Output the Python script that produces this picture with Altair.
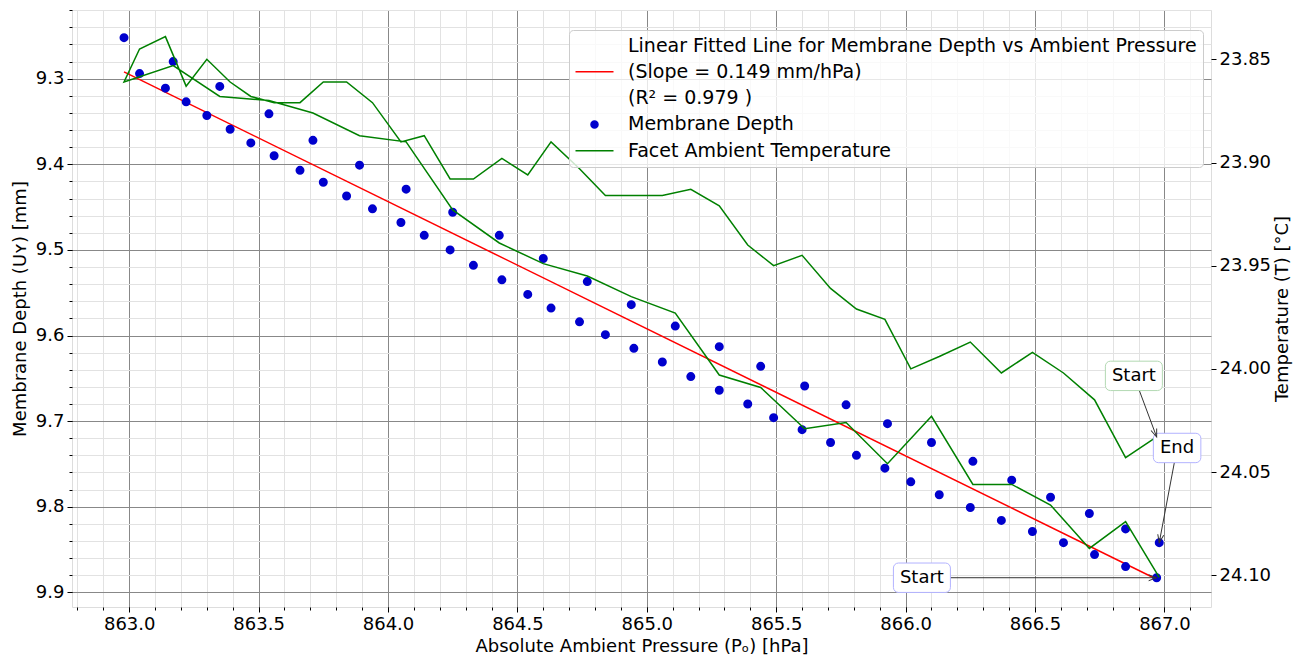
import math
import altair as alt
import pandas as pd

# ---------------- data ----------------
# measurement sequence: pressure falls from 867 to 863, then rises again
pressure = [866.97, 866.85, 866.73, 866.61, 866.49, 866.37, 866.25, 866.13, 866.02, 865.92,
            865.81, 865.71, 865.60, 865.49, 865.39, 865.28, 865.17, 865.06, 864.95, 864.84,
            864.74, 864.63, 864.54, 864.44, 864.33, 864.24, 864.14, 864.05, 863.94, 863.84,
            863.75, 863.66, 863.56, 863.47, 863.39, 863.30, 863.22, 863.14, 863.04, 862.98,
            863.17, 863.35, 863.54, 863.71, 863.89, 864.07, 864.25, 864.43, 864.60, 864.77,
            864.94, 865.11, 865.28, 865.44, 865.61, 865.77, 865.93, 866.10, 866.26, 866.41,
            866.56, 866.71, 866.85, 866.98]
depth = [9.883, 9.870, 9.856, 9.842, 9.829, 9.816, 9.801, 9.786, 9.771, 9.755,
         9.740, 9.725, 9.710, 9.696, 9.680, 9.664, 9.648, 9.631, 9.615, 9.599,
         9.584, 9.568, 9.552, 9.535, 9.518, 9.500, 9.483, 9.468, 9.452, 9.437,
         9.421, 9.407, 9.390, 9.375, 9.359, 9.343, 9.327, 9.311, 9.294, 9.252,
         9.280, 9.309, 9.341, 9.372, 9.401, 9.429, 9.456, 9.483, 9.510, 9.537,
         9.564, 9.589, 9.613, 9.636, 9.659, 9.681, 9.703, 9.725, 9.747, 9.769,
         9.789, 9.808, 9.826, 9.842]
temperature = [24.033, 24.043, 24.015, 24.002, 23.992, 24.002, 23.987, 23.994, 24.000, 23.976,
               23.971, 23.961, 23.945, 23.950, 23.940, 23.921, 23.913, 23.916, 23.916, 23.916,
               23.903, 23.890, 23.906, 23.898, 23.908, 23.908, 23.887, 23.890, 23.871, 23.861,
               23.861, 23.871, 23.871, 23.868, 23.861, 23.850, 23.863, 23.839, 23.845, 23.861,
               23.853, 23.868, 23.870, 23.876, 23.887, 23.890, 23.923, 23.939, 23.949, 23.955,
               23.965, 23.973, 24.003, 24.009, 24.029, 24.026, 24.046, 24.023, 24.056, 24.056,
               24.066, 24.087, 24.074, 24.101]

x_major = [863.0, 863.5, 864.0, 864.5, 865.0, 865.5, 866.0, 866.5, 867.0]
x_minor = [round(862.8 + 0.1 * i, 1) for i in range(44)]
d_major = [9.3, 9.4, 9.5, 9.6, 9.7, 9.8, 9.9]
d_minor = [round(9.22 + 0.02 * i, 2) for i in range(35)]
t_major = [23.85, 23.90, 23.95, 24.00, 24.05, 24.10]

legend_labels = [
    "Linear Fitted Line for Membrane Depth vs Ambient Pressure",
    "(Slope = 0.149 mm/hPa)",
    "(R² = 0.979 )",
    "Membrane Depth",
    "Facet Ambient Temperature",
]

# annotation label positions (data coordinates)
ann_depth_text = ["Start", "End"]
ann_depth_lp = [866.063, 867.049]
ann_depth_ld = [9.883, 9.7314]
ann_depth_w = [57, 47.5]
ann_temp_text = ["Start"]
ann_temp_lp = [866.882]
ann_temp_lt = [24.0034]
ann_temp_w = [57]

# ---------------- layout ----------------
W, H = 1139, 597
X_DOM = [862.779, 867.180]
D_DOM = [9.2197, 9.9172]
T_DOM = [23.8261, 24.1154]
FONT = "DejaVu Sans"
FS = 18

xs = alt.Scale(domain=X_DOM, nice=False, zero=False)
ds = alt.Scale(domain=D_DOM, nice=False, zero=False, reverse=True)
ts = alt.Scale(domain=T_DOM, nice=False, zero=False, reverse=True)

df = pd.DataFrame({
    "idx": list(range(len(pressure))),
    "p": pressure,
    "d": depth,
    "T": temperature,
    "series": ["Membrane Depth"] * len(pressure),
})

# ---------------- grid / axes layers ----------------
minor = alt.Chart(df).mark_point(opacity=0).encode(
    x=alt.X("p:Q", scale=xs, axis=alt.Axis(
        orient="bottom", values=x_minor, labels=False, ticks=True, tickSize=3,
        tickColor="black", grid=True, gridColor="#e2e2e2", gridWidth=1,
        domain=False, title=None)),
    y=alt.Y("d:Q", scale=ds, axis=alt.Axis(
        orient="left", values=d_minor, labels=False, ticks=True, tickSize=3,
        tickColor="black", grid=True, gridColor="#e2e2e2", gridWidth=1,
        domain=False, title=None)),
)

major = alt.Chart(df).mark_point(opacity=0).encode(
    x=alt.X("p:Q", scale=xs, axis=alt.Axis(
        orient="bottom", values=x_major, format=".1f", labelFont=FONT, labelFontSize=FS,
        labelColor="black", labelPadding=3, labelFlush=False, labelOverlap=False,
        tickSize=5, tickColor="black", tickWidth=1, grid=True, gridColor="#888888",
        gridWidth=1, domain=False, title="Absolute Ambient Pressure (Pₒ) [hPa]",
        titleFont=FONT, titleFontSize=FS, titleFontWeight="normal", titleColor="black",
        titlePadding=4)),
    y=alt.Y("d:Q", scale=ds, axis=alt.Axis(
        orient="left", values=d_major, format=".1f", labelFont=FONT, labelFontSize=FS,
        labelColor="black", labelPadding=3, labelFlush=False, labelOverlap=False,
        tickSize=5, tickColor="black", tickWidth=1, grid=True, gridColor="#888888",
        gridWidth=1, domain=False, title="Membrane Depth (Uʏ) [mm]",
        titleFont=FONT, titleFontSize=FS, titleFontWeight="normal", titleColor="black",
        titlePadding=6)),
)

# ---------------- data layers ----------------
fit = alt.Chart(df).transform_regression("p", "d").mark_line(
    color="red", strokeWidth=1.5).encode(
    x=alt.X("p:Q", scale=xs, axis=None),
    y=alt.Y("d:Q", scale=ds, axis=None),
)

LINE = "M-3.8,0H3.8"
DOT = "M-0.7,0A0.7,0.7,0,1,0,0.7,0A0.7,0.7,0,1,0,-0.7,0Z"
leg = alt.Legend(
    title=None, orient="none", legendX=497, legendY=20, labelFont=FONT, labelFontSize=19,
    labelColor="black", labelLimit=1000, labelOffset=24, symbolOffset=10, rowPadding=6.3,
    padding=6, fillColor="rgba(255,255,255,0.8)", strokeColor="#cccccc", cornerRadius=4,
    symbolStrokeWidth=1.5,
)
scatter = alt.Chart(df).mark_point(filled=True, opacity=1, size=100).encode(
    x=alt.X("p:Q", scale=xs, axis=None),
    y=alt.Y("d:Q", scale=ds, axis=None),
    fill=alt.Fill("series:N", legend=leg, scale=alt.Scale(
        domain=legend_labels,
        range=["transparent", "transparent", "transparent", "mediumblue", "transparent"])),
    stroke=alt.Stroke("series:N", legend=leg, scale=alt.Scale(
        domain=legend_labels,
        range=["transparent", "red", "transparent", "mediumblue", "green"])),
    shape=alt.Shape("series:N", legend=leg, scale=alt.Scale(
        domain=legend_labels, range=[LINE, LINE, LINE, DOT, LINE])),
)

temp = alt.Chart(df).mark_line(color="green", strokeWidth=1.5).encode(
    x=alt.X("p:Q", scale=xs, axis=None),
    y=alt.Y("T:Q", scale=ts, axis=alt.Axis(
        orient="right", values=t_major, format=".2f", labelFont=FONT, labelFontSize=FS,
        labelColor="black", labelPadding=3, labelFlush=False, labelOverlap=False,
        tickSize=5, tickColor="black", tickWidth=1, grid=False, domain=False,
        title="Temperature (T) [°C]", titleFont=FONT, titleFontSize=FS,
        titleFontWeight="normal", titleColor="black", titleAngle=270,
        titleBaseline="top", titlePadding=3)),
    order="idx:Q",
)

# ---------------- annotations ----------------
PX_X = W / (X_DOM[1] - X_DOM[0])
PX_D = H / (D_DOM[1] - D_DOM[0])
PX_T = H / (T_DOM[1] - T_DOM[0])


def angle(x0, y0, x1, y1, py):
    return math.degrees(math.atan2((y1 - y0) * py, (x1 - x0) * PX_X)) % 360


ann_d = pd.DataFrame({
    "text": ann_depth_text,
    "lp": ann_depth_lp,
    "ly": ann_depth_ld,
    "tp": [pressure[0], pressure[-1]],
    "ty": [depth[0], depth[-1]],
})
ann_d["ang"] = [angle(r.lp, r.ly, r.tp, r.ty, PX_D) for r in ann_d.itertuples()]
ann_t = pd.DataFrame({
    "text": ann_temp_text,
    "lp": ann_temp_lp,
    "ly": ann_temp_lt,
    "tp": [pressure[0]],
    "ty": [temperature[0]],
})
ann_t["ang"] = [angle(r.lp, r.ly, r.tp, r.ty, PX_T) for r in ann_t.itertuples()]

ARROW = "M-1,-0.375L0,0L-1,0.375"


def ann_layers(adf, yscale, widths, edge):
    layers = []
    layers.append(alt.Chart(adf).mark_rule(color="#333333", strokeWidth=1).encode(
        x=alt.X("lp:Q", scale=xs, axis=None), x2="tp:Q",
        y=alt.Y("ly:Q", scale=yscale, axis=None), y2="ty:Q"))
    layers.append(alt.Chart(adf).mark_point(
        shape=ARROW, size=256, filled=False, stroke="#333333", strokeWidth=1,
        opacity=1).encode(
        x=alt.X("tp:Q", scale=xs, axis=None),
        y=alt.Y("ty:Q", scale=yscale, axis=None),
        angle=alt.Angle("ang:Q", scale=None)))
    for i, w in enumerate(widths):
        row = adf.iloc[[i]]
        layers.append(alt.Chart(row).mark_rect(
            fill="white", stroke=edge, strokeWidth=1, cornerRadius=5,
            xOffset=-w / 2, x2Offset=w / 2, yOffset=-14.7, y2Offset=14.7).encode(
            x=alt.X("lp:Q", scale=xs, axis=None), x2="lp:Q",
            y=alt.Y("ly:Q", scale=yscale, axis=None), y2="ly:Q"))
    layers.append(alt.Chart(adf).mark_text(
        font=FONT, fontSize=FS, color="black", align="center", baseline="middle").encode(
        x=alt.X("lp:Q", scale=xs, axis=None),
        y=alt.Y("ly:Q", scale=yscale, axis=None),
        text="text:N"))
    return layers


layers = [minor, major, fit, scatter, temp]
layers += ann_layers(ann_d, ds, ann_depth_w, "#b3b3ff")
layers += ann_layers(ann_t, ts, ann_temp_w, "#b3d9b3")

chart = alt.layer(*layers).resolve_scale(
    y="independent"
).resolve_axis(
    x="independent", y="independent"
).properties(
    width=W, height=H,
    autosize=alt.AutoSizeParams(type="none"),
    padding={"left": 64, "top": 2, "right": 84, "bottom": 51},
).configure_view(
    stroke="black", strokeWidth=1
).configure(
    font=FONT, background="white"
)

chart.save("out.html", embed_options={"renderer": "svg", "actions": False})
